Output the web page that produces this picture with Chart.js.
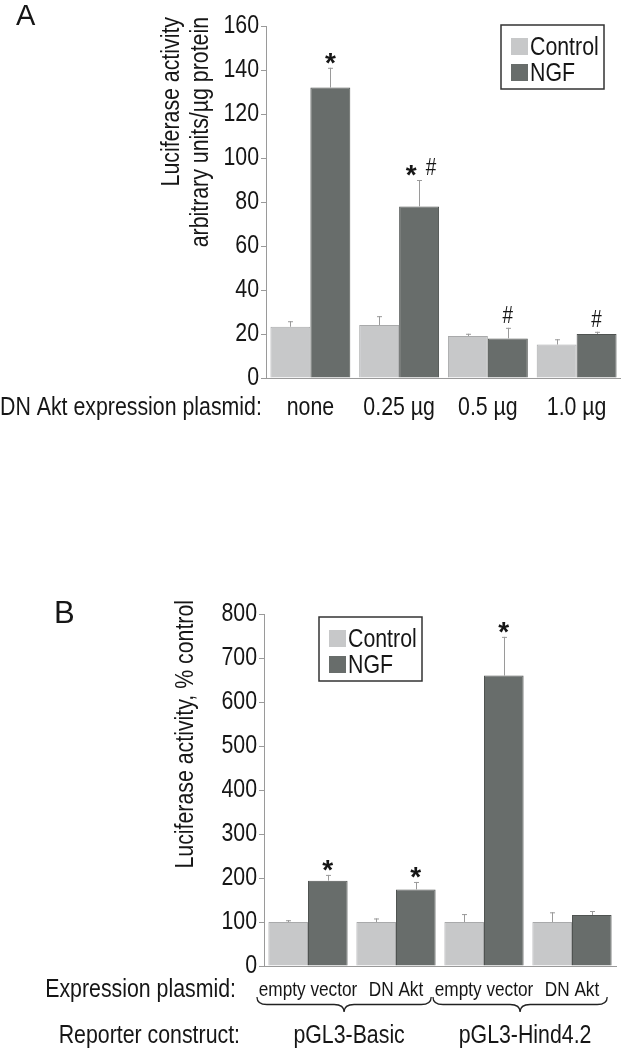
<!DOCTYPE html>
<html>
<head>
<meta charset="utf-8">
<script src="https://cdn.jsdelivr.net/npm/chart.js@4.4.1/dist/chart.umd.min.js"></script>
<style>
  html, body { margin: 0; padding: 0; background: #fff; }
  #wrap { position: relative; width: 621px; height: 1050px; }
  canvas { position: absolute; left: 0; }
</style>
</head>
<body>
<div id="wrap">
  <canvas id="chartA" width="621" height="440" style="top:0"></canvas>
  <canvas id="chartB" width="621" height="490" style="top:560px"></canvas>
</div>
<script>
// panel A: luciferase activity vs DN Akt dose
const labelsA = ['none', '0.25 µg', '0.5 µg', '1.0 µg'];
const controlA = [23.3, 24.1, 19.1, 15.2];
const controlErrA = [2.5, 4, 1, 2.4];
const ngfA = [132, 78, 18, 20];
const ngfErrA = [9, 12, 4.8, 1];
const marksA = ['*', '* #', '#', '#'];

// panel B: % control per reporter construct
const labelsB = ['empty vector', 'DN Akt', 'empty vector', 'DN Akt'];
const controlB = [100, 100, 100, 100];
const controlErrB = [4, 8, 18, 22];
const ngfB = [194, 174, 660, 116];
const ngfErrB = [13, 17, 88, 9];
const marksB = ['*', '*', '*', ''];
const reporterB = ['pGL3-Basic', 'pGL3-Hind4.2'];

// no narrow face installed, so Arial-metric text gets squeezed to look like Arial Narrow
const FONT = "'Liberation Sans', Arial, sans-serif";
const SQ = 0.82;
const FS = 26;
const INK = '#161616';
const LIGHT = '#c7c8c9';
const DARK = '#686d6b';
const AXIS = '#9a9a9a';
const CLEAR = 'rgba(0,0,0,0)';

function datasets(ctrl, ctrlErr, ngf, ngfErr) {
  return [
    { label: 'Control', data: ctrl, errors: ctrlErr, backgroundColor: LIGHT, borderColor: '#a9aaab', borderWidth: 1 },
    { label: 'NGF', data: ngf, errors: ngfErr, backgroundColor: DARK, borderColor: '#4f5351', borderWidth: 1 }
  ];
}

function txt(ctx, t, x, y, o) {
  o = o || {};
  ctx.save();
  ctx.font = (o.bold ? 'bold ' : '') + (o.size || FS) + 'px ' + FONT;
  ctx.fillStyle = INK;
  ctx.textAlign = o.align || 'left';
  ctx.textBaseline = o.baseline || 'alphabetic';
  ctx.translate(x, y);
  if (o.rotate) ctx.rotate(o.rotate);
  const sq = o.squeeze === undefined ? SQ : o.squeeze;
  ctx.scale(sq, 1);
  ctx.fillText(t, 0, 0);
  ctx.restore();
}

// one-sided error bars, drawn from the bar top upward
const errorBars = {
  id: 'errorBars',
  afterDatasetsDraw(chart) {
    const ctx = chart.ctx, y = chart.scales.y;
    ctx.save();
    ctx.strokeStyle = AXIS;
    ctx.lineWidth = 1;
    chart.data.datasets.forEach((ds, i) => {
      chart.getDatasetMeta(i).data.forEach((bar, j) => {
        const top = y.getPixelForValue(ds.data[j] + ds.errors[j]);
        const x = Math.round(bar.x) + 0.5;
        ctx.beginPath();
        ctx.moveTo(x, bar.y);
        ctx.lineTo(x, top);
        ctx.moveTo(x - 2.5, top + 0.5);
        ctx.lineTo(x + 2.5, top + 0.5);
        ctx.stroke();
      });
    });
    ctx.restore();
  }
};

// tick labels drawn by hand so they can be squeezed
function drawTickLabels(chart, xSize, xBase) {
  const ctx = chart.ctx, xs = chart.scales.x, ys = chart.scales.y;
  ys.ticks.forEach((t, i) => {
    txt(ctx, String(t.value), ys.right - 7, ys.getPixelForTick(i), { align: 'right', baseline: 'middle' });
  });
  chart.data.labels.forEach((lab, i) => {
    txt(ctx, lab, xs.getPixelForValue(i), xBase, { align: 'center', size: xSize });
  });
}

function drawMarks(chart, marks) {
  const ctx = chart.ctx, y = chart.scales.y;
  const ds = chart.data.datasets[1];
  chart.getDatasetMeta(1).data.forEach((bar, j) => {
    if (!marks[j]) return;
    const top = y.getPixelForValue(ds.data[j] + ds.errors[j]);
    const toks = marks[j].split(' ');
    toks.forEach((t, k) => {
      const dx = toks.length > 1 ? (k === 0 ? -8 : 12) : 0;
      if (t === '*') txt(ctx, t, bar.x + dx, top + 4, { align: 'center', bold: true, size: 28, squeeze: 1 });
      else txt(ctx, t, bar.x + dx, top - 5, { align: 'center', size: 23 });
    });
  });
}

function drawYTitle(ctx, lines, xs, top) {
  lines.forEach((t, k) => {
    txt(ctx, t, xs[k], top, { align: 'right', baseline: 'middle', rotate: -Math.PI / 2 });
  });
}

function drawLegend(chart, bx, by) {
  const ctx = chart.ctx;
  ctx.save();
  ctx.strokeStyle = '#333';
  ctx.lineWidth = 1.5;
  ctx.strokeRect(bx, by, 103, 64);
  chart.data.datasets.forEach((ds, i) => {
    const sy = by + 13 + i * 26;
    ctx.fillStyle = ds.backgroundColor;
    ctx.fillRect(bx + 10, sy, 17, 17);
    txt(ctx, ds.label, bx + 29, sy + 9.5, { baseline: 'middle' });
  });
  ctx.restore();
}

function drawBrace(ctx, x1, x2, y, h) {
  const xm = (x1 + x2) / 2, r = 10;
  ctx.beginPath();
  ctx.moveTo(x1, y);
  ctx.quadraticCurveTo(x1, y + h / 2, x1 + r, y + h / 2);
  ctx.lineTo(xm - r, y + h / 2);
  ctx.quadraticCurveTo(xm, y + h / 2, xm, y + h);
  ctx.quadraticCurveTo(xm, y + h / 2, xm + r, y + h / 2);
  ctx.lineTo(x2 - r, y + h / 2);
  ctx.quadraticCurveTo(x2, y + h / 2, x2, y);
  ctx.stroke();
}

function scales(max, step, yWidth, xHeight) {
  return {
    x: {
      grid: { display: false },
      border: { display: true, color: AXIS, width: 1 },
      ticks: { color: CLEAR, autoSkip: false, maxRotation: 0, font: { family: FONT, size: 12 } },
      afterFit: s => { s.height = xHeight; }
    },
    y: {
      min: 0, max: max,
      grid: { display: true, drawOnChartArea: false, drawTicks: true, tickLength: 5, color: AXIS },
      border: { display: true, color: AXIS, width: 1 },
      ticks: { stepSize: step, color: CLEAR, autoSkip: false, font: { family: FONT, size: 12 } },
      afterFit: s => { s.width = yWidth; }
    }
  };
}

const baseOpts = {
  responsive: false,
  animation: false,
  plugins: { legend: { display: false }, tooltip: { enabled: false } }
};

const decorA = {
  id: 'decorA',
  afterDraw(chart) {
    const ctx = chart.ctx;
    txt(ctx, 'A', 16, 25, { size: 29, squeeze: 1 });
    drawYTitle(ctx, ['Luciferase activity', 'arbitrary units/µg protein'], [172, 201], 17);
    drawLegend(chart, 501, 25);
    drawMarks(chart, marksA);
    drawTickLabels(chart, FS, 415);
    txt(ctx, 'DN Akt expression plasmid:', 0, 415);
  }
};

const decorB = {
  id: 'decorB',
  afterDraw(chart) {
    const ctx = chart.ctx, x = chart.scales.x;
    txt(ctx, 'B', 54, 63, { size: 31, squeeze: 1 });
    drawYTitle(ctx, ['Luciferase activity, % control'], [186], 40);
    drawLegend(chart, 319, 57);
    drawMarks(chart, marksB);
    drawTickLabels(chart, 21, 436);
    txt(ctx, 'Expression plasmid:', 236, 437, { align: 'right' });
    txt(ctx, 'Reporter construct:', 240, 483, { align: 'right' });
    const s = x.getPixelForValue(1) - x.getPixelForValue(0);
    ctx.save();
    ctx.strokeStyle = '#222';
    ctx.lineWidth = 1.3;
    reporterB.forEach((name, g) => {
      const c0 = x.getPixelForValue(g * 2), c1 = x.getPixelForValue(g * 2 + 1);
      const x1 = c0 - 0.58 * s, x2 = c1 + 0.4 * s;
      drawBrace(ctx, x1, x2, 437, 15);
      txt(ctx, name, (x1 + x2) / 2 + 5, 483, { align: 'center' });
    });
    ctx.restore();
  }
};

new Chart(document.getElementById('chartA'), {
  type: 'bar',
  data: { labels: labelsA, datasets: datasets(controlA, controlErrA, ngfA, ngfErrA) },
  options: Object.assign({}, baseOpts, {
    datasets: { bar: { barPercentage: 1, categoryPercentage: 0.9 } },
    layout: { padding: { top: 26, left: 0, right: 0, bottom: 0 } },
    scales: scales(160, 20, 266, 62)
  }),
  plugins: [errorBars, decorA]
});

new Chart(document.getElementById('chartB'), {
  type: 'bar',
  data: { labels: labelsB, datasets: datasets(controlB, controlErrB, ngfB, ngfErrB) },
  options: Object.assign({}, baseOpts, {
    datasets: { bar: { barPercentage: 1, categoryPercentage: 0.9 } },
    layout: { padding: { top: 54, left: 0, right: 5, bottom: 0 } },
    scales: scales(800, 100, 264, 84)
  }),
  plugins: [errorBars, decorB]
});
</script>
</body>
</html>
